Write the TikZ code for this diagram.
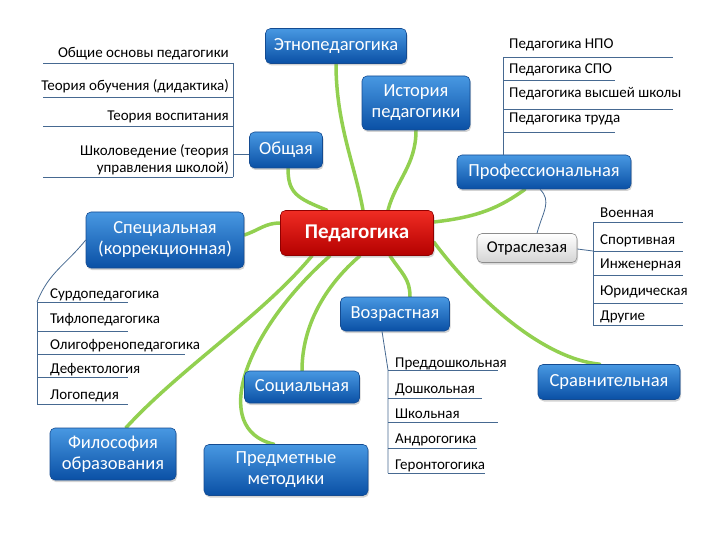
\documentclass[tikz,border=0pt]{standalone}
\usepackage{fontspec}
\setmainfont{Carlito}
\usetikzlibrary{shadows,backgrounds}
\definecolor{bluetop}{RGB}{72,152,226}
\definecolor{bluebot}{RGB}{10,80,165}
\definecolor{blueedge}{RGB}{20,75,145}
\definecolor{redtop}{RGB}{240,45,35}
\definecolor{redbot}{RGB}{180,0,0}
\definecolor{leaf}{RGB}{146,208,80}
\definecolor{listblue}{RGB}{70,105,145}
\begin{document}
\begin{tikzpicture}[x=1pt,y=-1pt,
  bbox/.style={rounded corners=5pt, top color=bluetop, bottom color=bluebot, draw=blueedge, line width=0.6pt, text=white, align=center, font=\fontsize{18.5}{21}\selectfont, inner sep=2pt, drop shadow={shadow xshift=1pt,shadow yshift=-2pt,opacity=0.35}},
  rbox/.style={rounded corners=5pt, top color=redtop, bottom color=redbot, draw=redbot!80!black, line width=0.6pt, text=white, font=\bfseries\fontsize{21}{24}\selectfont, drop shadow={shadow xshift=1pt,shadow yshift=-2pt,opacity=0.35}},
  gbox/.style={rounded corners=5pt, top color=white, bottom color=black!17, draw=black!45, line width=0.6pt, text=black, font=\fontsize{16.5}{19}\selectfont, drop shadow={shadow xshift=1pt,shadow yshift=-2pt,opacity=0.3}},
  gline/.style={draw=leaf, line width=3.5pt, line cap=round},
  lline/.style={draw=listblue, line width=0.8pt},
  item/.style={font=\fontsize{15}{17}\selectfont, inner sep=0pt, text=black},
]
\useasboundingbox (0,0) rectangle (720,540);

% main boxes
\node[rbox, minimum width=153pt, minimum height=45pt] (ped) at (357,233) {Педагогика};
\node[bbox, minimum width=141pt, minimum height=35pt] (etno) at (336,46) {Этнопедагогика};
\node[bbox, minimum width=108pt, minimum height=54pt] (ist) at (416,103) {История\\педагогики};
\node[bbox, minimum width=73pt, minimum height=36pt] (obsh) at (286,150) {Общая};
\node[bbox, minimum width=174pt, minimum height=34pt] (prof) at (544,172) {Профессиональная};
\node[bbox, minimum width=158pt, minimum height=56pt] (spec) at (165,240) {Специальная\\(коррекционная)};
\node[gbox, minimum width=100pt, minimum height=29pt] (otr) at (527,248) {Отраслезая};
\node[bbox, minimum width=109pt, minimum height=34pt] (voz) at (395,314) {Возрастная};
\node[bbox, minimum width=115pt, minimum height=32pt] (soc) at (302,387) {Социальная};
\node[bbox, minimum width=142pt, minimum height=35pt] (srav) at (609,382) {Сравнительная};
\node[bbox, minimum width=126pt, minimum height=52pt] (fil) at (113,454) {Философия\\образования};
\node[bbox, minimum width=164pt, minimum height=51pt] (pred) at (286,470) {Предметные\\методики};

% green branches
\begin{scope}[on background layer]
\draw[gline] ([xshift=6pt]ped.north) .. controls +(-8,-45) and +(0,60) .. (etno.south);
\draw[gline] ([xshift=-30pt]ped.north) .. controls +(-30,-12) and +(0,25) .. ([xshift=2pt]obsh.south);
\draw[gline] ([xshift=31pt]ped.north) .. controls +(8,-30) and +(0,35) .. (ist.south);
\draw[gline] ([yshift=11pt]ped.east) .. controls +(45,-5) and +(-25,18) .. ([xshift=-19pt]prof.south);
\draw[gline] ([yshift=10pt]ped.west) .. controls +(-15,0) and +(15,-5) .. ([yshift=5pt]spec.east);
\draw[gline] ([xshift=33pt]ped.south) .. controls +(12,18) and +(0,-18) .. ([xshift=15pt]voz.north);
\draw[gline] ([yshift=-9pt]ped.east) .. controls +(45,60) and +(-55,-5) .. ([xshift=-9pt]srav.north);
\draw[gline] ([xshift=3pt]ped.south) .. controls +(-35,30) and +(0,-45) .. (soc.north);
\draw[gline] ([xshift=-45pt]ped.south) .. controls +(-50,60) and +(55,-60) .. ([xshift=13pt]fil.north);
\draw[gline] ([xshift=-27pt]ped.south) .. controls +(-85,75) and +(-65,-15) .. ([xshift=-12pt]pred.north);
\end{scope}

% list of "Общая"
\coordinate (oa) at (233,63);
\coordinate (ob) at (233,177);
\draw[lline] (oa) -- (ob);
\draw[lline] ([yshift=-4pt]obsh.west) -- (233,154);
\draw[lline] (43,63) -- (oa);
\draw[lline] (43,97) -- (233,97);
\draw[lline] (43,126) -- (233,126);
\draw[lline] (43,177) -- (ob);
\node[item, anchor=base east] (o1) at (229,58) {Общие основы педагогики};
\node[item, anchor=base east] (o2) at (229,91) {Теория обучения (дидактика)};
\node[item, anchor=base east] (o3) at (229,121) {Теория воспитания};
\node[item, anchor=south east, align=right] (o4) at (229,175) {Школоведение (теория\\управления школой)};

% list of "Профессиональная"
\coordinate (pa) at (503,57);
\draw[lline] (pa) -- (503,157 |- prof.north);
\draw[lline] (pa) -- (673,57);
\draw[lline] (503,80) -- (615,80);
\draw[lline] (503,109) -- (673,109);
\draw[lline] (503,132) -- (615,132);
\node[item, anchor=base west] (p1) at (509,49) {Педагогика НПО};
\node[item, anchor=base west] (p2) at (509,74) {Педагогика СПО};
\node[item, anchor=base west] (p3) at (509,98) {Педагогика высшей школы};
\node[item, anchor=base west] (p4) at (509,123) {Педагогика труда};

% "Профессиональная" -> "Отраслезая"
\draw[lline] ([xshift=-4pt]prof.south) .. controls +(12,12) and +(6,-22) .. ([xshift=10pt]otr.north);

% list of "Отраслезая"
\coordinate (ra) at (593,222);
\coordinate (rb) at (593,325);
\draw[lline] (ra) -- (rb);
\draw[lline] ([yshift=-1pt]otr.east) -- (593,251);
\draw[lline] (ra) -- (683,222);
\draw[lline] (593,251) -- (683,251);
\draw[lline] (593,275) -- (683,275);
\draw[lline] (593,303) -- (683,303);
\draw[lline] (rb) -- (683,325);
\node[item, anchor=base west] (r1) at (600,218) {Военная};
\node[item, anchor=base west] (r2) at (600,244) {Спортивная};
\node[item, anchor=base west] (r3) at (600,268) {Инженерная};
\node[item, anchor=base west] (r4) at (600,295) {Юридическая};
\node[item, anchor=base west] (r5) at (600,320) {Другие};

% list of "Специальная"
\coordinate (sa) at (37,302);
\coordinate (sb) at (37,404);
\draw[lline] (spec.west) .. controls +(-20,25) and +(12,-30) .. (sa);
\draw[lline] (sa) -- (sb);
\draw[lline] (sa) -- (128,302);
\draw[lline] (37,331) -- (128,331);
\draw[lline] (37,354) -- (185,354);
\draw[lline] (37,377) -- (128,377);
\draw[lline] (sb) -- (128,404);
\node[item, anchor=base west] (s1) at (50,298) {Сурдопедагогика};
\node[item, anchor=base west] (s2) at (50,323) {Тифлопедагогика};
\node[item, anchor=base west] (s3) at (50,349) {Олигофренопедагогика};
\node[item, anchor=base west] (s4) at (50,373) {Дефектология};
\node[item, anchor=base west] (s5) at (50,399) {Логопедия};

% list of "Возрастная"
\coordinate (va) at (388,370);
\coordinate (vb) at (388,473);
\draw[lline] ([xshift=-13pt]voz.south) -- (va) -- (vb);
\draw[lline] (va) -- (498,370);
\draw[lline] (388,398) -- (482,398);
\draw[lline] (388,422) -- (498,422);
\draw[lline] (388,448) -- (477,448);
\draw[lline] (vb) -- (485,473);
\node[item, anchor=base west] (v1) at (395,367) {Преддошкольная};
\node[item, anchor=base west] (v2) at (395,393) {Дошкольная};
\node[item, anchor=base west] (v3) at (395,418) {Школьная};
\node[item, anchor=base west] (v4) at (395,443) {Андрогогика};
\node[item, anchor=base west] (v5) at (395,469) {Геронтогогика};
\end{tikzpicture}
\end{document}
